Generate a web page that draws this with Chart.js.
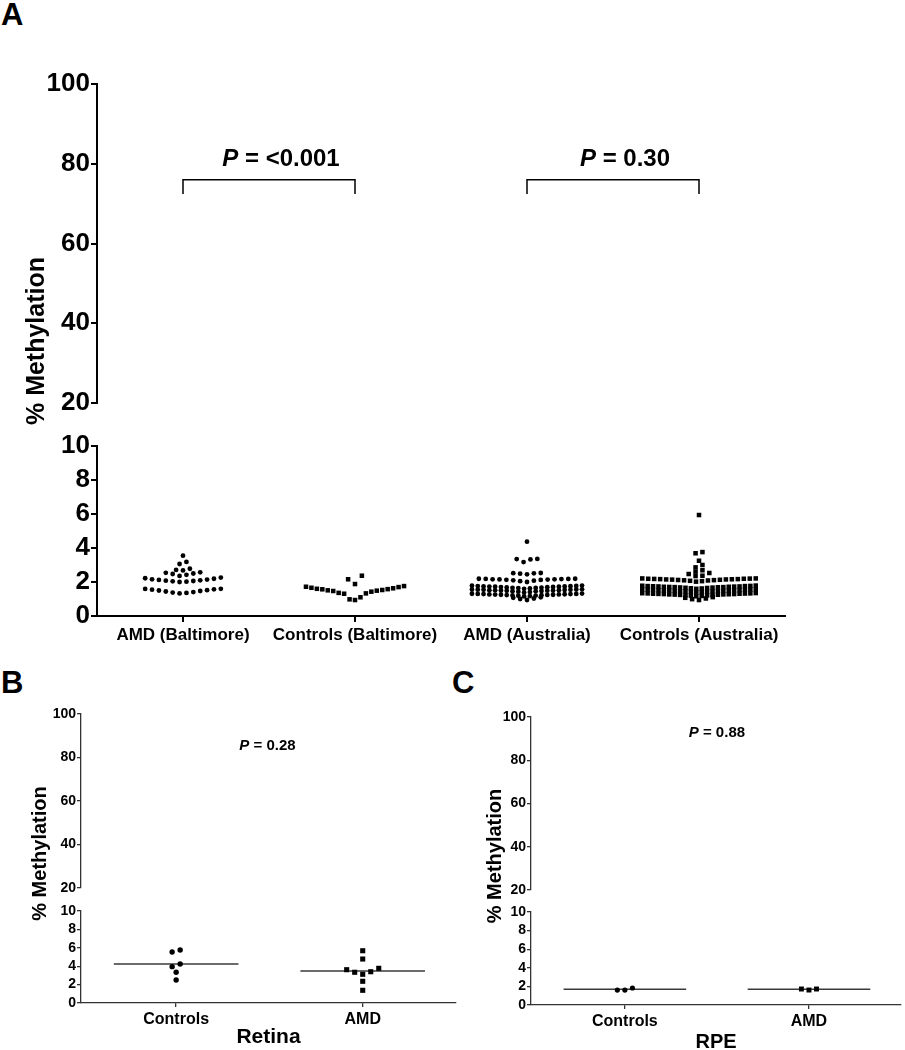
<!DOCTYPE html>
<html>
<head>
<meta charset="utf-8">
<script src="https://cdn.jsdelivr.net/npm/chart.js@4.4.0/dist/chart.umd.min.js"></script>
<style>
  body { margin: 0; background: #fff; width: 905px; height: 1050px; position: relative; overflow: hidden;
         font-family: 'Liberation Sans', Arial, Helvetica, sans-serif; }
  .panel { position: absolute; }
  .tag { position: absolute; font-weight: bold; font-size: 31px; line-height: 1; color: #000; }
</style>
</head>
<body>
<div class="tag" style="left:1px;top:-1px">A</div>
<div class="tag" style="left:1px;top:667px">B</div>
<div class="tag" style="left:452px;top:667px">C</div>
<div class="panel" style="left:0;top:0;width:905px;height:656px"><canvas id="chartA"></canvas></div>
<div class="panel" style="left:0;top:690px;width:460px;height:360px"><canvas id="chartB"></canvas></div>
<div class="panel" style="left:450px;top:690px;width:455px;height:360px"><canvas id="chartC"></canvas></div>

<script>
// --- data (% methylation) ---
const groupsA = ['AMD (Baltimore)', 'Controls (Baltimore)', 'AMD (Australia)', 'Controls (Australia)'];

const amdBaltimore = [
  1.33, 1.36, 1.38, 1.41, 1.44, 1.47, 1.50, 1.52, 1.55, 1.57, 1.59, 1.60,
  2.00, 2.02, 2.04, 2.06, 2.08, 2.10, 2.12, 2.14, 2.16, 2.19, 2.22, 2.26,
  2.36, 2.42, 2.47, 2.50, 2.54, 2.57,
  2.68, 2.71, 2.78,
  3.06, 3.18,
  3.55
];
const ctrlBaltimore = [
  0.94, 0.98, 1.10, 1.31, 1.33, 1.36, 1.43, 1.47, 1.49, 1.51, 1.53, 1.57, 1.58, 1.60, 1.63, 1.66, 1.70, 1.72, 1.76,
  1.88, 2.16, 2.37
];
const amdAustralia = [
  0.94, 1.00, 1.03, 1.07, 1.10,
  1.15, 1.17, 1.19, 1.20, 1.21, 1.22, 1.23, 1.24, 1.25, 1.25, 1.26, 1.27, 1.27, 1.28, 1.29, 1.29, 1.30, 1.30, 1.31, 1.32,
  1.38, 1.41, 1.43, 1.45, 1.46, 1.47, 1.48, 1.49, 1.50, 1.50, 1.51, 1.52, 1.52, 1.53, 1.54, 1.54, 1.55, 1.56, 1.56, 1.57,
  1.60, 1.62, 1.64, 1.65, 1.66, 1.67, 1.68, 1.69, 1.70, 1.71, 1.72, 1.72, 1.73, 1.74, 1.74, 1.75, 1.76, 1.77, 1.78, 1.79,
  2.00, 2.05, 2.08, 2.10, 2.12, 2.13, 2.14, 2.15, 2.16, 2.16, 2.17, 2.18, 2.18, 2.19, 2.19,
  2.45, 2.49, 2.51, 2.52, 2.53,
  3.17, 3.33, 3.35, 3.36,
  4.37
];
const ctrlAustralia = [
  0.94, 0.99, 1.03, 1.07, 1.11,
  1.16, 1.18, 1.20, 1.21, 1.22, 1.23, 1.24, 1.25, 1.26, 1.27, 1.27, 1.28, 1.29, 1.29, 1.30, 1.31, 1.31, 1.32, 1.33, 1.33, 1.34, 1.35,
  1.38, 1.40, 1.42, 1.43, 1.44, 1.45, 1.46, 1.47, 1.48, 1.49, 1.50, 1.50, 1.51, 1.52, 1.52, 1.53, 1.54, 1.54, 1.55, 1.56, 1.56, 1.57,
  1.60, 1.62, 1.63, 1.65, 1.66, 1.67, 1.68, 1.69, 1.70, 1.70, 1.71, 1.72, 1.72, 1.73, 1.74, 1.74, 1.75, 1.76, 1.76, 1.77, 1.78, 1.79,
  2.02, 2.05, 2.07, 2.09, 2.10, 2.11, 2.12, 2.13, 2.14, 2.15, 2.15, 2.16, 2.17, 2.17, 2.18, 2.19, 2.19, 2.20, 2.21, 2.21,
  2.35, 2.37, 2.47, 2.53,
  2.61, 2.69,
  2.86, 3.00,
  3.25,
  3.69, 3.76,
  5.94
];
const pValuesA = ['<0.001', '0.30'];

const groupsBC = ['Controls', 'AMD'];
const retinaControls = [2.50, 3.34, 3.95, 4.24, 5.55, 5.76];
const retinaAMD = [1.38, 2.36, 3.12, 3.34, 3.40, 3.62, 3.77, 4.78, 5.68];
const retinaMedians = [4.24, 3.48];
const pRetina = '0.28';
const rpeControls = [1.61, 1.61, 1.83];
const rpeAMD = [1.61, 1.72, 1.72];
const rpeMedians = [1.69, 1.69];
const pRPE = '0.88';

// broken y axis: lower and upper tick labels
const lowerTicks = [0, 2, 4, 6, 8, 10];
const upperTicks = [20, 40, 60, 80, 100];

const FONT = "'Liberation Sans', Arial, Helvetica, sans-serif";

// column scatter layout: values grouped in rows, lowest value in the middle
function swarm(values, center, binW, step, maxHalf) {
  const sorted = values.slice().sort((a, b) => a - b);
  const rows = [];
  sorted.forEach(v => {
    const row = rows[rows.length - 1];
    if (row && v < row[0] + binW) row.push(v);
    else rows.push([v]);
  });
  const pts = [];
  rows.forEach(row => {
    const n = row.length;
    const gap = n > 1 ? Math.min(step, 2 * maxHalf / (n - 1)) : 0;
    const slots = row.map((_, i) => (i - (n - 1) / 2) * gap)
      .sort((a, b) => Math.abs(a) - Math.abs(b) || a - b);
    row.forEach((v, i) => pts.push({ x: center + slots[i], y: v }));
  });
  return pts;
}

// text drawn over each panel: y title and P values
const panelText = {
  id: 'panelText',
  afterDraw(chart, args, o) {
    const { ctx, scales } = chart;
    ctx.save();
    ctx.fillStyle = '#000';
    ctx.textBaseline = 'middle';

    const yMid = (scales.yUp.top + scales.yLow.bottom) / 2 + o.titleDy;
    ctx.save();
    ctx.translate(o.titleX, yMid);
    ctx.rotate(-Math.PI / 2);
    ctx.textAlign = 'center';
    ctx.font = `bold ${o.titleSize}px ${FONT}`;
    ctx.fillText(o.title, 0, 0);
    ctx.restore();

    ctx.textAlign = 'left';
    o.pLabels.forEach(p => {
      const x = scales.x.getPixelForValue(p.x) + p.dx;
      const y = scales.yUp.getPixelForValue(p.y);
      const rest = ' = ' + p.text;
      ctx.font = `italic bold ${o.pSize}px ${FONT}`;
      const w1 = ctx.measureText('P').width;
      ctx.font = `bold ${o.pSize}px ${FONT}`;
      const w2 = ctx.measureText(rest).width;
      const x0 = x - (w1 + w2) / 2;
      ctx.font = `italic bold ${o.pSize}px ${FONT}`;
      ctx.fillText('P', x0, y);
      ctx.font = `bold ${o.pSize}px ${FONT}`;
      ctx.fillText(rest, x0 + w1, y);
    });
    ctx.restore();
  }
};

function yScale(cfg, range, ticks, weight) {
  return {
    type: 'linear', position: 'left', stack: 'y', stackWeight: weight,
    min: range[0], max: range[1],
    afterBuildTicks: s => { s.ticks = ticks.map(v => ({ value: v })); },
    afterFit: s => { s.width = cfg.left; },
    ticks: { autoSkip: false, color: '#000', padding: cfg.tickPad,
             font: { family: FONT, size: cfg.tickSize, weight: 'bold' } },
    grid: { display: true, drawOnChartArea: false, tickLength: cfg.tickLen,
            color: cfg.axisColor, lineWidth: cfg.axisWidth },
    border: { display: true, color: cfg.axisColor, width: cfg.axisWidth }
  };
}

function brokenAxisChart(cfg) {
  const datasets = cfg.values.map((vals, i) => ({
    label: cfg.groups[i],
    data: swarm(vals, i + 1, cfg.bins[i], cfg.step, cfg.spreads[i]),
    yAxisID: 'yLow',
    pointStyle: cfg.markers[i],
    pointRadius: cfg.markers[i] === 'rect' ? cfg.rectR : cfg.dotR,
    backgroundColor: '#000',
    borderWidth: 0
  }));

  // median lines
  (cfg.medians || []).forEach((m, i) => {
    datasets.push({
      data: [{ x: i + 1 - cfg.medianHalf, y: m }, { x: i + 1 + cfg.medianHalf, y: m }],
      yAxisID: 'yLow', showLine: true, pointRadius: 0,
      borderColor: '#3a3a3a', borderWidth: 1.5
    });
  });

  // significance brackets on the upper axis
  (cfg.brackets || []).forEach(b => {
    datasets.push({
      data: [{ x: b[0], y: cfg.bracketLow }, { x: b[0], y: cfg.bracketTop },
             { x: b[1], y: cfg.bracketTop }, { x: b[1], y: cfg.bracketLow }],
      yAxisID: 'yUp', showLine: true, pointRadius: 0, tension: 0,
      borderColor: '#000', borderWidth: 1.5
    });
  });

  return new Chart(document.getElementById(cfg.id), {
    type: 'scatter',
    data: { datasets },
    plugins: [panelText],
    options: {
      responsive: true,
      maintainAspectRatio: false,
      animation: false,
      layout: { padding: { top: cfg.padTop, right: cfg.padRight, left: 0, bottom: 0 } },
      scales: {
        x: {
          type: 'linear', position: 'bottom', min: cfg.xRange[0], max: cfg.xRange[1],
          afterBuildTicks: s => { s.ticks = cfg.groups.map((_, i) => ({ value: i + 1 })); },
          afterFit: s => { s.height = cfg.bottom; },
          ticks: { autoSkip: false, maxRotation: 0, color: '#000', padding: 3,
                   font: { family: FONT, size: cfg.xTickSize, weight: 'bold' },
                   callback: v => cfg.groups[v - 1] },
          grid: { display: true, drawOnChartArea: false, tickLength: cfg.tickLen,
                  color: cfg.axisColor, lineWidth: cfg.axisWidth },
          border: { display: true, color: cfg.axisColor, width: cfg.axisWidth },
          title: { display: !!cfg.xTitle, text: cfg.xTitle, color: '#000', padding: 0,
                   font: { family: FONT, size: cfg.xTitleSize, weight: 'bold', lineHeight: cfg.xTitleLH } }
        },
        yLow: yScale(cfg, [0, 10], lowerTicks, cfg.weights[0]),
        yGap: {
          type: 'linear', position: 'left', stack: 'y', stackWeight: cfg.weights[1], min: 0, max: 1,
          afterFit: s => { s.width = cfg.left; },
          ticks: { display: false }, grid: { display: false }, border: { display: false }
        },
        yUp: yScale(cfg, [20, 100], upperTicks, cfg.weights[2])
      },
      plugins: {
        legend: { display: false },
        tooltip: { enabled: false },
        panelText: {
          title: '% Methylation', titleX: cfg.titleX, titleDy: cfg.titleDy, titleSize: cfg.titleSize,
          pSize: cfg.pSize, pLabels: cfg.pLabels
        }
      }
    }
  });
}

// panel A
brokenAxisChart({
  id: 'chartA', groups: groupsA,
  values: [amdBaltimore, ctrlBaltimore, amdAustralia, ctrlAustralia],
  markers: ['circle', 'rect', 'circle', 'rect'],
  bins: [0.3, 0.85, 0.2, 0.2], spreads: [0.33, 0.285, 0.32, 0.33], step: 0.04,
  dotR: 2.4, rectR: 3.2,
  left: 97, bottom: 40, padTop: 84, padRight: 120, weights: [170, 43, 319], xRange: [0.5, 4.5],
  tickSize: 26, xTickSize: 17, tickLen: 6, tickPad: 1, axisColor: '#000', axisWidth: 2,
  brackets: [[1, 2], [3, 4]], bracketTop: 76, bracketLow: 72.4,
  titleX: 37.5, titleDy: -9, titleSize: 25, pSize: 24,
  pLabels: [{ x: 1.5, y: 81, dx: 12, text: pValuesA[0] }, { x: 3.5, y: 81, dx: 12, text: pValuesA[1] }]
});

// panel B (retina)
brokenAxisChart({
  id: 'chartB', groups: groupsBC,
  values: [retinaControls, retinaAMD], medians: retinaMedians, medianHalf: 0.334,
  markers: ['circle', 'rect'], bins: [0.4, 0.7], spreads: [0.3, 0.3], step: 0.043,
  dotR: 2.7, rectR: 3.6,
  left: 81, bottom: 47, padTop: 24, padRight: 3, weights: [92, 23, 174], xRange: [0.49, 2.5],
  tickSize: 14, xTickSize: 16, tickLen: 4, tickPad: 1, axisColor: '#333', axisWidth: 1.3,
  xTitle: 'Retina', xTitleSize: 21, xTitleLH: 1.2,
  titleX: 40, titleDy: -5, titleSize: 20, pSize: 15,
  pLabels: [{ x: 1.5, y: 85.3, dx: -2, text: pRetina }]
});

// panel C (RPE)
brokenAxisChart({
  id: 'chartC', groups: groupsBC,
  values: [rpeControls, rpeAMD], medians: rpeMedians, medianHalf: 0.333,
  markers: ['circle', 'rect'], bins: [0.3, 0.3], spreads: [0.3, 0.3], step: 0.041,
  dotR: 2.6, rectR: 3.5,
  left: 81, bottom: 45, padTop: 27, padRight: 0, weights: [93, 22, 173], xRange: [0.49, 2.5],
  tickSize: 14, xTickSize: 16, tickLen: 4, tickPad: 1, axisColor: '#333', axisWidth: 1.3,
  xTitle: 'RPE', xTitleSize: 20, xTitleLH: 0.8,
  titleX: 45, titleDy: -5, titleSize: 20, pSize: 15,
  pLabels: [{ x: 1.5, y: 92.6, dx: 0, text: pRPE }]
});
</script>
</body>
</html>
